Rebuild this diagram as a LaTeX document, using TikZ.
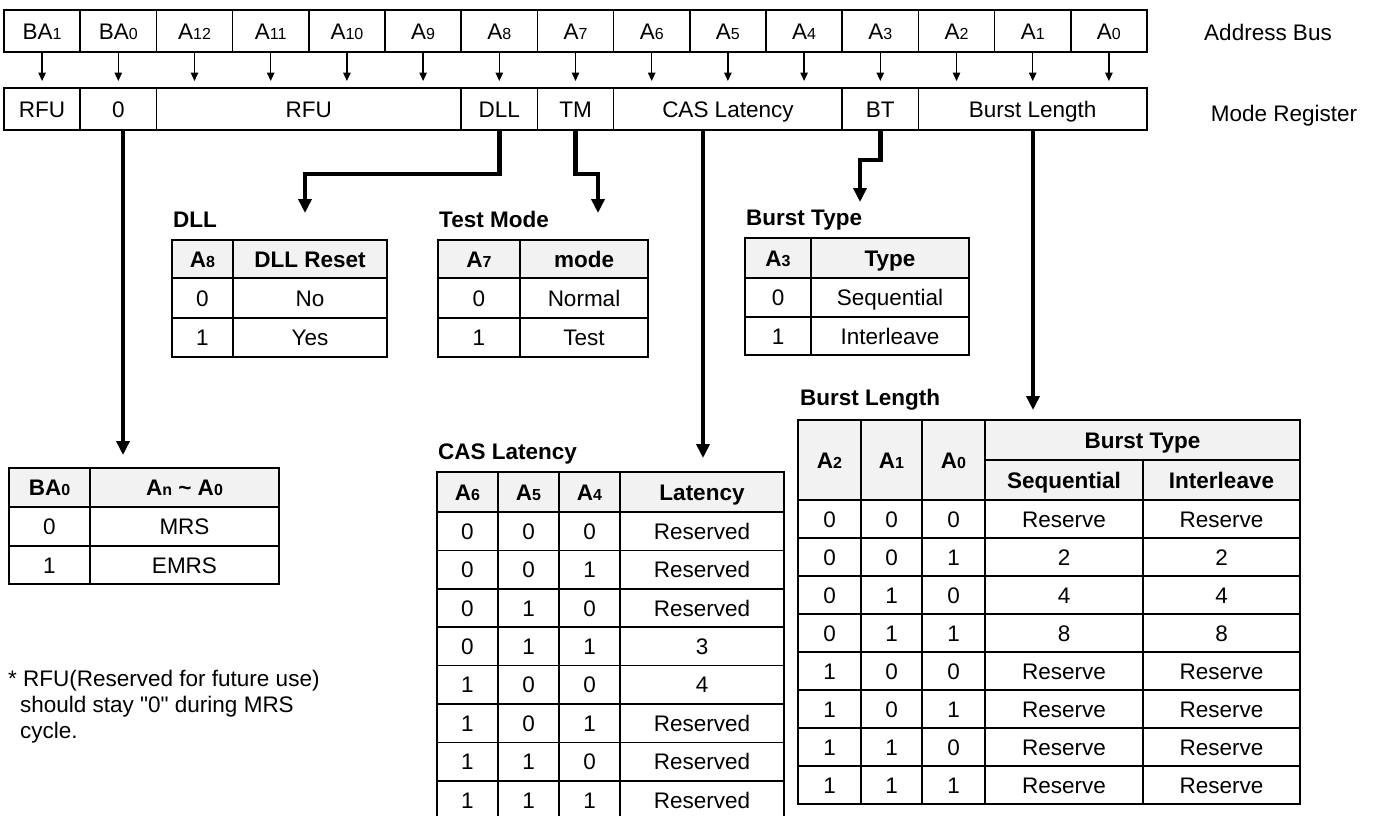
\documentclass[tikz,border=0pt]{standalone}
\usepackage{fontspec}
\setmainfont{Liberation Sans}
\newfontfamily\nolig{Liberation Sans}
\usetikzlibrary{arrows.meta,calc}
\definecolor{hdrgray}{RGB}{242,242,242}
\newcommand\sbs[1]{{\fontsize{16}{16}\selectfont #1}}
\newcommand\Cell[7][]{\node[cellbox,#1,minimum width={(#5-#3)*1pt},minimum height={(#6-#4)*1pt}] (#2) at ({(#3+#5)/2},{(#4+#6)/2}) {#7};}
\tikzset{
  cellbox/.style={draw, line width=1.6pt, inner sep=0pt, outer sep=0pt, text height=16.2pt, text depth=0pt, font=\fontsize{22.5}{22.5}\selectfont},
  hdr/.style={fill=hdrgray, font=\bfseries\fontsize{22.5}{22.5}\selectfont},
  tabtitle/.style={anchor=west, inner sep=0pt, text height=16.2pt, text depth=0pt, font=\bfseries\fontsize{22.5}{22.5}\selectfont},
  plain/.style={inner sep=0pt, text height=16.2pt, text depth=0pt, font=\fontsize{22.5}{22.5}\selectfont},
  bigarrow/.style={line width=4.8pt, -{Triangle[width=13pt,length=14pt]}},
  smallarrow/.style={line width=1.3pt, -{Triangle[width=7.5pt,length=8.5pt]}}
}
\begin{document}
\begin{tikzpicture}[x=1pt,y=-1pt]
\clip (0,0) rectangle (1378,815);
\fill[white] (0,0) rectangle (1378,815);
% Address bus
\foreach \lab [count=\i from 0] in {BA\sbs{1},BA\sbs{0},A\sbs{12},A\sbs{11},A\sbs{10},A\sbs{9},A\sbs{8},A\sbs{7},A\sbs{6},A\sbs{5},A\sbs{4},A\sbs{3},A\sbs{2},A\sbs{1},A\sbs{0}}{
  \pgfmathsetmacro\xa{4+76.2*\i}
  \pgfmathsetmacro\xb{4+76.2*(\i+1)}
  \Cell{b\i}{\xa}{10}{\xb}{52}{\lab}
}
\coordinate (tipline) at (0,81);
\foreach \i in {0,...,14}{
  \draw[smallarrow] (b\i.south) -- (b\i.south |- tipline);
}
% Mode register
\Cell{r0}{4}{88}{80.2}{130}{RFU}
\Cell{r1}{80.2}{88}{156.4}{130}{0}
\Cell{r2}{156.4}{88}{461.2}{130}{RFU}
\Cell{r3}{461.2}{88}{537.4}{130}{DLL}
\Cell{r4}{537.4}{88}{613.6}{130}{TM}
\Cell{r5}{613.6}{88}{842.2}{130}{CAS Latency}
\Cell{r6}{842.2}{88}{918.4}{130}{BT}
\Cell{r7}{918.4}{88}{1147}{130}{Burst Length}
\node[plain] (lab1) at (1268,32) {Address Bus};
\node[plain] (lab2) at (1284,113) {Mode Register};
% DLL table
\node[tabtitle] (tDLL) at (173,219) {DLL};
\Cell[hdr]{d00}{172}{240}{233}{278}{A\sbs{8}}
\Cell[hdr]{d01}{233}{240}{387}{278}{DLL Reset}
\Cell{d10}{172}{278}{233}{318}{0}
\Cell{d11}{233}{278}{387}{318}{No}
\Cell{d20}{172}{318}{233}{357}{1}
\Cell{d21}{233}{318}{387}{357}{Yes}
% Test mode table
\node[tabtitle] (tTM) at (439,219) {Test Mode};
\Cell[hdr]{m00}{438}{240}{520}{278}{A\sbs{7}}
\Cell[hdr]{m01}{520}{240}{648}{278}{mode}
\Cell{m10}{438}{278}{520}{318}{0}
\Cell{m11}{520}{278}{648}{318}{Normal}
\Cell{m20}{438}{318}{520}{357}{1}
\Cell{m21}{520}{318}{648}{357}{Test}
% Burst type table
\node[tabtitle] (tBT) at (746,217) {Burst Type};
\Cell[hdr]{t00}{745}{238}{811}{278}{A\sbs{3}}
\Cell[hdr]{t01}{811}{238}{969}{278}{Type}
\Cell{t10}{745}{278}{811}{317}{0}
\Cell{t11}{811}{278}{969}{317}{Sequential}
\Cell{t20}{745}{317}{811}{355}{1}
\Cell{t21}{811}{317}{969}{355}{Interleave}
% BA0 table
\Cell[hdr]{e00}{9}{468}{90}{507}{BA\sbs{0}}
\Cell[hdr]{e01}{90}{468}{279}{507}{A\sbs{n} \textasciitilde{} A\sbs{0}}
\Cell{e10}{9}{507}{90}{546}{0}
\Cell{e11}{90}{507}{279}{546}{MRS}
\Cell{e20}{9}{546}{90}{584}{1}
\Cell{e21}{90}{546}{279}{584}{EMRS}
% CAS latency table
\node[tabtitle] (tCAS) at (438,451) {CAS Latency};
\Cell[hdr]{c0a}{437}{472}{498}{512}{A\sbs{6}}
\Cell[hdr]{c0b}{498}{472}{559}{512}{A\sbs{5}}
\Cell[hdr]{c0c}{559}{472}{620}{512}{A\sbs{4}}
\Cell[hdr]{c0d}{620}{472}{784}{512}{Latency}
\foreach \pa/\pb/\pc/\pd [count=\r from 1] in {0/0/0/Reserved,0/0/1/Reserved,0/1/0/Reserved,0/1/1/3,1/0/0/4,1/0/1/Reserved,1/1/0/Reserved,1/1/1/Reserved}{
  \pgfmathsetmacro\ya{512+38.4*(\r-1)}
  \pgfmathsetmacro\yb{512+38.4*\r}
  \Cell{c\r a}{437}{\ya}{498}{\yb}{\pa}
  \Cell{c\r b}{498}{\ya}{559}{\yb}{\pb}
  \Cell{c\r c}{559}{\ya}{620}{\yb}{\pc}
  \Cell{c\r d}{620}{\ya}{784}{\yb}{\pd}
}
% Burst length table
\node[tabtitle] (tBL) at (800,397) {Burst Length};
\Cell[hdr]{l0a}{798}{420}{861}{500}{A\sbs{2}}
\Cell[hdr]{l0b}{861}{420}{922}{500}{A\sbs{1}}
\Cell[hdr]{l0c}{922}{420}{985}{500}{A\sbs{0}}
\Cell[hdr]{l0t}{985}{420}{1300}{460}{Burst Type}
\Cell[hdr]{l0d}{985}{460}{1143}{500}{Sequential}
\Cell[hdr]{l0e}{1143}{460}{1300}{500}{Interleave}
\foreach \pa/\pb/\pc/\pd/\pe [count=\r from 1] in {0/0/0/Reserve/Reserve,0/0/1/2/2,0/1/0/4/4,0/1/1/8/8,1/0/0/Reserve/Reserve,1/0/1/Reserve/Reserve,1/1/0/Reserve/Reserve,1/1/1/Reserve/Reserve}{
  \pgfmathsetmacro\ya{500+38*(\r-1)}
  \pgfmathsetmacro\yb{500+38*\r}
  \Cell{l\r a}{798}{\ya}{861}{\yb}{\pa}
  \Cell{l\r b}{861}{\ya}{922}{\yb}{\pb}
  \Cell{l\r c}{922}{\ya}{985}{\yb}{\pc}
  \Cell{l\r d}{985}{\ya}{1143}{\yb}{\pd}
  \Cell{l\r e}{1143}{\ya}{1300}{\yb}{\pe}
}
% Connectors
\coordinate (tipBA) at (123,455);
\coordinate (bendD) at (305,174);
\coordinate (tipD) at (305,213);
\coordinate (bendT) at (598,174);
\coordinate (tipT) at (598,213);
\coordinate (tipC) at (703,458);
\coordinate (bendB) at (860,160);
\coordinate (tipB) at (860,202);
\coordinate (tipL) at (1033,410);
\draw[bigarrow] (r1.south -| tipBA) -- (tipBA);
\draw[bigarrow] (r3.south) -- (r3.south |- bendD) -- (bendD) -- (tipD);
\draw[bigarrow] (r4.south) -- (r4.south |- bendT) -- (bendT) -- (tipT);
\draw[bigarrow] (r5.south -| tipC) -- (tipC);
\draw[bigarrow] (r6.south) -- (r6.south |- bendB) -- (bendB) -- (tipB);
\draw[bigarrow] (r7.south -| tipL) -- (tipL);
% Footnote
\node[plain, anchor=base west] (n1) at (8,686) {* RFU(Reserved for future use)};
\node[plain, anchor=base west, font=\nolig\fontsize{22.5}{22.5}\selectfont] (n2) at (20,712) {should stay "0" during MRS};
\node[plain, anchor=base west] (n3) at (20,738) {cycle.};
\end{tikzpicture}
\end{document}
